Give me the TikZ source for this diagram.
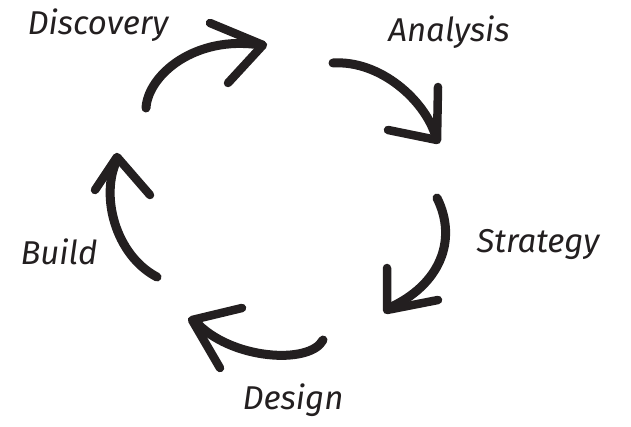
\documentclass[tikz,border=0pt]{standalone}
\usepackage{fontspec}
\newfontfamily\handfont{Fira Sans}
\usetikzlibrary{calc}
\definecolor{ink}{HTML}{231F20}
\tikzset{stroke/.style={draw=ink,line width=9pt,line cap=round,line join=round},head/.style={stroke,line width=8.5pt},lab/.style={text=ink,inner sep=0pt,font=\handfont\itshape\fontsize{33}{34}\selectfont}}
\begin{document}
\begin{tikzpicture}[x=1pt,y=-1pt]
\useasboundingbox (0,0) rectangle (631,427);
\node[lab] (disc) at (98,25) {Discovery};
\node[lab] (anal) at (449,32) {Analysis};
\node[lab] (strat) at (538,244) {Strategy};
\node[lab] (des) at (293,400) {Design};
\node[lab] (bld) at (59,252) {Build};
% arrow ends
\coordinate (a1) at (146,108);\coordinate (a2) at (260,45);
\coordinate (b1) at (333,63);\coordinate (b2) at (436,137);
\coordinate (c1) at (437,198);\coordinate (c2) at (389,308);
\coordinate (d1) at (323,340);\coordinate (d2) at (195,321);
\coordinate (e1) at (157,277);\coordinate (e2) at (117,160);
\draw[stroke](a1) .. controls (148,75) and (195,35) .. (a2);
\draw[stroke](b1) .. controls (380,60) and (425,100) .. (b2);
\draw[stroke](c1) .. controls (458,240) and (440,285) .. (c2);
\draw[stroke](d1) .. controls (310,365) and (230,360) .. (d2);
\draw[stroke](e1) .. controls (115,255) and (100,195) .. (e2);
% heads
\draw[head](210,23)--(263,45)--(228,83);
\draw[head](438,87)--(437,140)--(388,130);
\draw[head](387,268)--(387,310)--(438,300);
\draw[head](242,308)--(192,320)--(220,368);
\draw[head](95,190)--(117,157)--(150,195);
\end{tikzpicture}
\end{document}
